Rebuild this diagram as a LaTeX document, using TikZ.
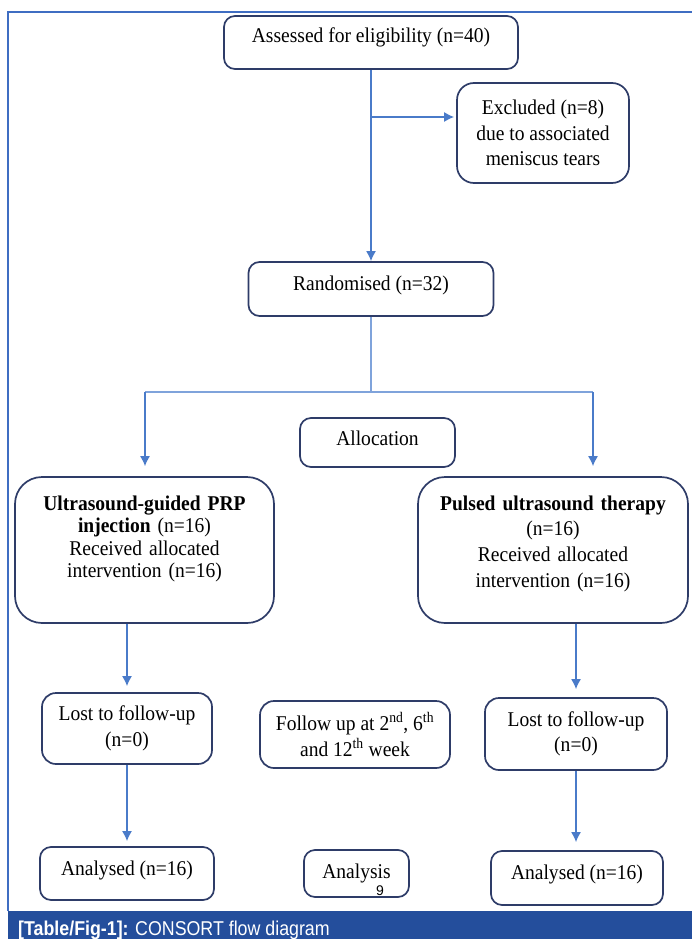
\documentclass[tikz,border=0pt]{standalone}
\usepackage{fontspec}
\setmainfont{Liberation Serif}[FakeStretch=0.93]
\setsansfont{Liberation Sans}
\newfontfamily\capfont{Liberation Sans}[FakeStretch=0.89]
\usetikzlibrary{arrows.meta,positioning}

\definecolor{boxline}{HTML}{2E3C68}
\definecolor{arrowblue}{HTML}{4A7BC9}
\definecolor{splitblue}{HTML}{7FA3DB}
\definecolor{frameblue}{HTML}{3F6DC2}
\definecolor{capblue}{HTML}{244E9C}

\begin{document}
\begin{tikzpicture}[x=1pt,y=-1pt,
                    font=\fontsize{21}{25.5}\selectfont,
                    box/.style={draw=boxline,line width=1.7pt,rounded corners=11pt,inner sep=0pt,align=center},
                    big box/.style={box,rounded corners=27pt},
                    arrow/.style={draw=arrowblue,line width=1.5pt,-{Latex[length=10pt,width=10pt]}},
                    split line/.style={draw=splitblue,line width=1.3pt}]

  \useasboundingbox (0,0) rectangle (692,939);

  % frame and caption bar
  \draw[frameblue,line width=1.5pt] (8,911) -- (8,12) -- (692,12);
  \fill[capblue] (8,911) rectangle (692,939);
  \node[anchor=base west,text=white,font=\capfont\fontsize{20}{24}\selectfont,inner sep=0pt] (caption) at (18,935)
    {\textbf{[Table/Fig-1]:} CONSORT flow diagram};

  % enrolment
  \node[box,minimum width=294pt,text height=27pt,text depth=26pt] (assess) at (371,42.5) {Assessed for eligibility (n=40)};
  \node[box,rounded corners=17pt,minimum width=172pt,minimum height=100pt] (exclude) at (543,133)
    {Excluded (n=8)\\due to associated\\meniscus tears};
  \node[box,minimum width=245pt,text height=28.5pt,text depth=25.5pt] (rand) at (371,289) {Randomised (n=32)};

  % allocation
  \node[box,minimum width=155pt,text height=27.5pt,text depth=21.5pt] (alloc) at (377.5,442.5) {Allocation};
  \node[big box,minimum width=259pt,text width=255pt,text height=33pt,text depth=113pt,
        font=\fontsize{21}{22.5}\selectfont] (prp) at (144.5,550)
    {\textbf{Ultrasound-guided PRP}\\\textbf{injection} (n=16)\\Received allocated\\intervention (n=16)};
  \node[big box,minimum width=270pt,text width=265pt,text height=33pt,text depth=113pt,
        font=\fontsize{21}{25.7}\selectfont] (pulsed) at (553,550)
    {\textbf{Pulsed ultrasound therapy}\\(n=16)\\Received allocated\\intervention (n=16)};

  % follow-up
  \node[box,rounded corners=14pt,minimum width=170pt,minimum height=71pt] (lost1) at (127,728.5) {Lost to follow-up\\(n=0)};
  \node[box,rounded corners=14pt,minimum width=190pt,minimum height=67pt] (follow) at (355,734.5)
    {Follow up at 2\textsuperscript{nd}, 6\textsuperscript{th}\\and 12\textsuperscript{th} week};
  \node[box,rounded corners=14pt,minimum width=182pt,minimum height=72pt] (lost2) at (576,734) {Lost to follow-up\\(n=0)};

  % analysis
  \node[box,minimum width=174pt,text height=28pt,text depth=25pt] (anal1) at (127,873.5) {Analysed (n=16)};
  \node[box,minimum width=105pt,text height=28pt,text depth=19pt] (analysis) at (356.5,873.5) {Analysis};
  \node[box,minimum width=172pt,text height=28pt,text depth=26pt] (anal2) at (577,878) {Analysed (n=16)};
  \node[font=\sffamily\fontsize{14}{16}\selectfont,inner sep=0pt] (pagenum) at (380,891) {9};

  \coordinate (branch) at (371,117);
  \coordinate (split) at (371,392);
  \coordinate (split left) at (145,392);
  \coordinate (split right) at (593,392);

  \draw[arrow] (assess) -- (rand);
  \draw[arrow,shorten >=2pt] (branch) -- (branch -| exclude.west);

  \draw[split line] (rand) -- (split) (split left) -- (split right);
  \draw[arrow,line width=1.3pt,shorten >=10pt] (split left) -- (split left |- prp.north);
  \draw[arrow,line width=1.3pt,shorten >=10pt] (split right) -- (split right |- pulsed.north);

  \draw[arrow,shorten >=6pt] (lost1.north |- prp.south) -- (lost1);
  \draw[arrow,shorten >=8pt] (lost2.north |- pulsed.south) -- (lost2);
  \draw[arrow,shorten >=5pt] (lost1) -- (anal1);
  \draw[arrow,shorten >=8pt] (lost2.south) -- (lost2.south |- anal2.north);

\end{tikzpicture}
\end{document}
